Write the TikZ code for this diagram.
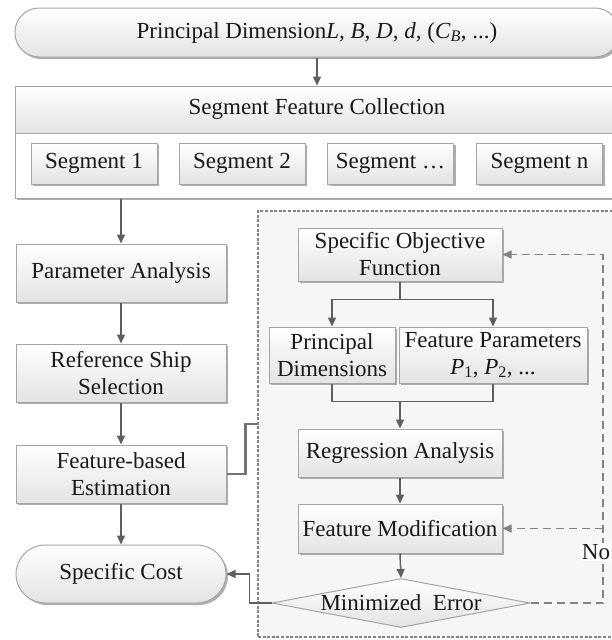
\documentclass[tikz,border=0pt]{standalone}
\usepackage{fontspec}
\setmainfont{Liberation Serif}
\usetikzlibrary{arrows.meta,shadows,shapes.geometric}

\definecolor{boxline}{RGB}{165,165,165}
\definecolor{arrowgray}{RGB}{95,95,95}
\definecolor{regionfill}{RGB}{246,246,246}
\definecolor{dashgray}{RGB}{130,130,130}

\tikzset{
  every picture/.style={line width=1pt},
  shaded/.style={draw=boxline, top color=white, bottom color=black!11, align=center,
                 inner sep=2pt, text=black!90, font=\fontsize{23}{27}\selectfont},
  box/.style={shaded, drop shadow={shadow xshift=2pt, shadow yshift=-2pt, fill=black!45, opacity=0.7}},
  pill/.style={box, rounded corners=#1},
  pill/.default=24pt,
  decision/.style={shaded, shape=diamond, inner sep=0pt},
  region/.style={draw=dashgray, fill=regionfill, line width=2pt, dash pattern=on 3pt off 1.6pt},
  flow/.style={draw=arrowgray, line width=1.5pt, -{Triangle[width=8pt,length=9pt]}},
  line/.style={draw=arrowgray, line width=1.5pt},
  link/.style={draw=black!55, line width=2.5pt},
  back/.style={draw=dashgray, line width=1.3pt, dash pattern=on 8pt off 5pt,
               -{Triangle[width=8pt,length=9pt]}},
}

\begin{document}
\begin{tikzpicture}[x=1pt, y=1pt, yscale=-1]

    \useasboundingbox (0,0) rectangle (612,640);
    \clip (0,0) rectangle (612,640);

    \node [pill, minimum width=604, minimum height=49] (princ) at (317,32.5)
          {Principal Dimension\textit{L, B, D, d,} (\textit{C}\textsubscript{\textit{B}}, ...)};

    \node [box, top color=white, bottom color=white, minimum width=604, minimum height=112] (coll) at (317,142) {};
    \node [shaded, minimum width=604, minimum height=47] (collhead) at (317,109.5) {Segment Feature Collection};

    \foreach \name/\txt/\cx in {seg1/{Segment 1}/94, seg2/{Segment 2}/242, seg3/{Segment \ldots}/390.5, segn/{Segment n}/539.5}
      \node [box, minimum width=126, minimum height=41] (\name) at (\cx,163.5) {\txt};

    \node [box, minimum width=210, minimum height=58] (param)   at (121,273) {Parameter Analysis};
    \node [box, minimum width=210, minimum height=58] (refship) at (121,373) {Reference Ship\\Selection};
    \node [box, minimum width=210, minimum height=58] (febased) at (121,474) {Feature-based\\Estimation};
    \node [pill=29pt, minimum width=210, minimum height=58] (cost) at (121,574) {Specific Cost};

    % optimisation loop
    \node [region, minimum width=367, minimum height=426] (optbox) at (441.5,424) {};

    \node [box, minimum width=204, minimum height=53] (objfun)  at (400,254.5) {Specific Objective\\Function};
    \node [box, minimum width=126, minimum height=56] (prindim) at (332,355) {Principal\\Dimensions};
    \node [box, minimum width=188, minimum height=56] (featpar) at (493,355)
          {Feature Parameters\\\textit{P}\textsubscript{1}, \textit{P}\textsubscript{2}, ...};
    \node [box, minimum width=204, minimum height=48] (regress) at (400,453) {Regression Analysis};
    \node [box, minimum width=204, minimum height=49] (featmod) at (400,528.5) {Feature Modification};
    \node [decision, minimum width=258, minimum height=49] (minerr) at (401,603) {};
    \node [font=\fontsize{23}{27}\selectfont, text=black!90] (minerrtxt) at (minerr.center) {Minimized~~Error};

    \draw [flow] (princ.south) -- (coll.north);
    \draw [flow] (coll.south -| param.north) -- (param.north);
    \draw [flow] (param.south) -- (refship.north);
    \draw [flow] (refship.south) -- (febased.north);
    \draw [flow] (febased.south) -- (cost.north);

    \draw [link] (febased.east) -- ++(19,0) |- (optbox.west);

    \path (objfun.south) ++(0,18) coordinate (split);
    \draw [line] (objfun.south) -- (split);
    \draw [flow] (split) -| (prindim.north);
    \draw [flow] (split) -| (featpar.north);

    \path (regress.north) ++(0,-27) coordinate (merge);
    \draw [line] (prindim.south) |- (merge) -| (featpar.south);
    \draw [flow] (merge) -- (regress.north);
    \draw [flow] (regress.south) -- (featmod.north);
    \draw [flow] (featmod.south) -- (minerr.north);

    \draw [flow, line width=1.2pt] (minerr.west) -- ++(-22,0) |- (cost.east);

    \coordinate (fbk) at (603,603);
    \draw [back] (minerr.east) -- (fbk) |- (objfun.east);
    \draw [back] (fbk |- featmod.east) -- (featmod.east);
    \node [fill=white, inner sep=1pt, font=\fontsize{23}{27}\selectfont, text=black!90] (nolabel) at (596,552) {No};

\end{tikzpicture}
\end{document}
